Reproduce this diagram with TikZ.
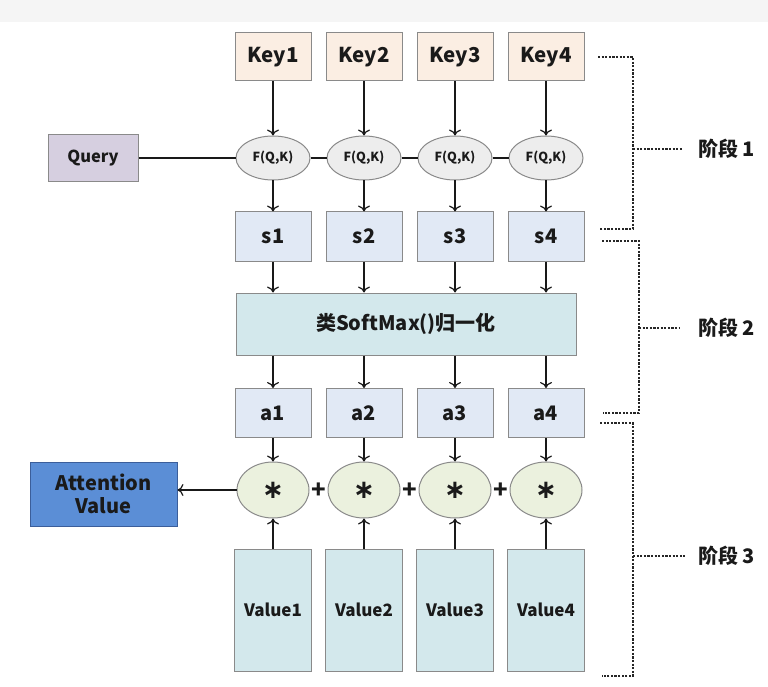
\documentclass[tikz,border=0pt]{standalone}
\usepackage{fontspec}
\setmainfont{Noto Sans CJK SC}
\newfontfamily\symfont{DejaVu Sans}
\usetikzlibrary{arrows.meta,shapes.geometric}
\definecolor{keyfill}{HTML}{FBEEE3}
\definecolor{queryfill}{HTML}{D6CFE0}
\definecolor{ffill}{HTML}{EDEDED}
\definecolor{sfill}{HTML}{E1E9F5}
\definecolor{tealfill}{HTML}{D3E8EC}
\definecolor{starfill}{HTML}{EBF1DE}
\definecolor{attfill}{HTML}{5B8ED6}
\definecolor{attdraw}{HTML}{3B5E9A}
\definecolor{bord}{HTML}{8A8A8A}
\definecolor{txt}{HTML}{1A1A1A}
\definecolor{topstrip}{HTML}{F5F5F5}
\tikzset{
  base/.style={draw=bord, line width=1pt, inner sep=0pt, text=txt, align=center},
  keybox/.style={base, fill=keyfill, minimum width=76pt, minimum height=48pt, font=\bfseries\fontsize{20.5}{21}\selectfont},
  querybox/.style={base, fill=queryfill, minimum width=90pt, minimum height=47pt, font=\bfseries\fontsize{16.5}{17}\selectfont},
  fqk/.style={base, ellipse, fill=ffill, minimum width=74pt, minimum height=44pt, font=\bfseries\fontsize{12.5}{13}\selectfont},
  sbox/.style={base, fill=sfill, minimum width=76pt, minimum height=49pt, font=\bfseries\fontsize{20}{21}\selectfont},
  softbox/.style={base, fill=tealfill, minimum width=340pt, minimum height=62pt, font=\bfseries\fontsize{20}{21}\selectfont},
  starnode/.style={base, ellipse, fill=starfill, minimum width=72pt, minimum height=56pt, font=\symfont\bfseries\fontsize{26}{26}\selectfont},
  plusnode/.style={inner sep=0pt, text=txt, font=\bfseries\fontsize{24}{24}\selectfont},
  attbox/.style={base, draw=attdraw, fill=attfill, minimum width=147pt, minimum height=64pt, font=\bfseries\fontsize{20}{23}\selectfont},
  valbox/.style={base, fill=tealfill, minimum width=77pt, minimum height=122pt, font=\bfseries\fontsize{17}{18}\selectfont},
  stagelbl/.style={inner sep=0pt, anchor=west, text=txt, font=\bfseries\fontsize{20}{21}\selectfont},
  conn/.style={-{To[length=6pt,width=12pt]}, line width=1.2pt, black!90},
  plainline/.style={line width=1.2pt, black!90},
  dotline/.style={line width=1.3pt, dash pattern=on 2.2pt off 1.4pt, black!85}
}
\begin{document}
\begin{tikzpicture}[x=1pt,y=-1pt]
\useasboundingbox (0,0) rectangle (768,687);
\fill[topstrip] (0,0) rectangle (768,22);

% keys
\node[keybox] (k1) at (273,57) {Key1};
\node[keybox] (k2) at (364,57) {Key2};
\node[keybox] (k3) at (455,57) {Key3};
\node[keybox] (k4) at (546,57) {Key4};

% query and F(Q,K)
\node[querybox] (q) at (93,158) {Query};
\node[fqk] (f1) at (273,158) {F(Q,K)};
\node[fqk] (f2) at (364,158) {F(Q,K)};
\node[fqk] (f3) at (455,158) {F(Q,K)};
\node[fqk] (f4) at (546,158) {F(Q,K)};

% s
\node[sbox] (s1) at (273,236.5) {s1};
\node[sbox] (s2) at (364,236.5) {s2};
\node[sbox] (s3) at (455,236.5) {s3};
\node[sbox] (s4) at (546,236.5) {s4};

% softmax
\node[softbox] (sm) at (406,324) {类SoftMax()归一化};

% a
\node[sbox] (a1) at (273,413) {a1};
\node[sbox] (a2) at (364,413) {a2};
\node[sbox] (a3) at (455,413) {a3};
\node[sbox] (a4) at (546,413) {a4};

% stars
\node[starnode] (m1) at (273,490) {∗};
\node[starnode] (m2) at (364,490) {∗};
\node[starnode] (m3) at (455,490) {∗};
\node[starnode] (m4) at (546,490) {∗};
\node[plusnode] (p1) at (318.5,491) {+};
\node[plusnode] (p2) at (409.5,491) {+};
\node[plusnode] (p3) at (500.5,491) {+};

% attention value
\node[attbox] (att) at (103.5,494) {Attention\\Value};

% values
\node[valbox] (v1) at (273,610) {Value1};
\node[valbox] (v2) at (364,610) {Value2};
\node[valbox] (v3) at (455,610) {Value3};
\node[valbox] (v4) at (546,610) {Value4};

% connectors
\foreach \i in {1,2,3,4}{
  \draw[conn] (k\i) -- (f\i);
  \draw[conn] (f\i) -- (s\i);
  \draw[conn] (s\i.south) -- (s\i.south |- sm.north);
  \draw[conn] (sm.south -| a\i.north) -- (a\i.north);
  \draw[conn] (a\i) -- (m\i);
  \draw[conn] (v\i) -- (m\i);
}
\draw[plainline] (q.east) -- (f1.west);
\draw[plainline] (f1.east) -- (f2.west);
\draw[plainline] (f2.east) -- (f3.west);
\draw[plainline] (f3.east) -- (f4.west);
\draw[conn] (m1.west) -- (m1.west -| att.east);

% stage brackets
\coordinate (b1a) at (598,57);
\coordinate (b1b) at (633,57);
\coordinate (b1c) at (633,229);
\coordinate (b1d) at (600,229);
\coordinate (b1m) at (633,149);
\coordinate (b1t) at (683,149);
\draw[dotline] (b1a) -- (b1b) -- (b1c) -- (b1d);
\draw[dotline] (b1m) -- (b1t);
\node[stagelbl] (st1) at (698,149) {阶段 1};

\coordinate (b2a) at (602,241);
\coordinate (b2b) at (639,241);
\coordinate (b2c) at (639,413);
\coordinate (b2d) at (603,413);
\coordinate (b2m) at (639,328);
\coordinate (b2t) at (680,328);
\draw[dotline] (b2a) -- (b2b) -- (b2c) -- (b2d);
\draw[dotline] (b2m) -- (b2t);
\node[stagelbl] (st2) at (698,328) {阶段 2};

\coordinate (b3a) at (600,423);
\coordinate (b3b) at (633,423);
\coordinate (b3c) at (633,676);
\coordinate (b3d) at (602,676);
\coordinate (b3m) at (633,556);
\coordinate (b3t) at (685,556);
\draw[dotline] (b3a) -- (b3b) -- (b3c) -- (b3d);
\draw[dotline] (b3m) -- (b3t);
\node[stagelbl] (st3) at (698,556) {阶段 3};
\end{tikzpicture}
\end{document}
